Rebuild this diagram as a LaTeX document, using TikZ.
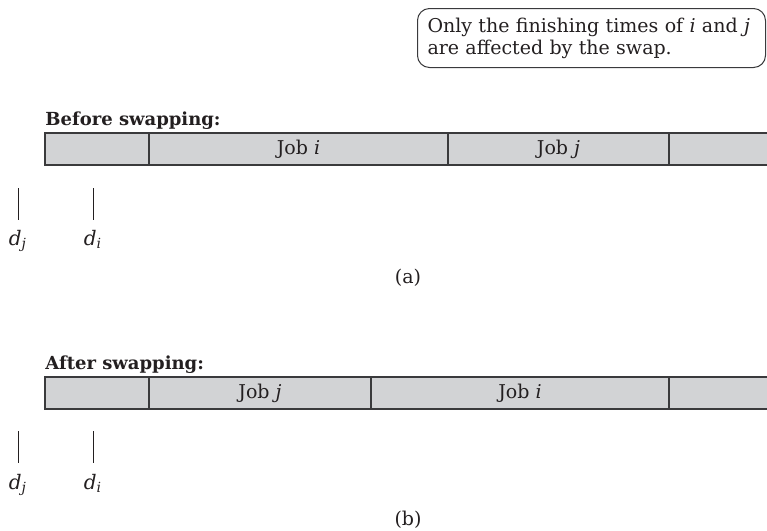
\documentclass[tikz,border=0pt]{standalone}
\usepackage{fontspec}
\setmainfont{DejaVu Serif}
\newcommand{\jobvar}[1]{\textit{#1}}
\definecolor{barfill}{RGB}{210,211,213}
\definecolor{barline}{RGB}{58,58,60}
\definecolor{ink}{RGB}{35,31,32}
\tikzset{
  cell/.style={draw=barline,fill=barfill,line width=0.75pt,minimum height=16pt,
    inner sep=0pt,outer sep=0pt,anchor=west},
  heading/.style={anchor=base west,inner sep=0pt,font=\fontsize{9}{11}\selectfont\bfseries},
  deadline/.style={anchor=base,inner sep=0pt,font=\fontsize{10}{12}\selectfont},
  tickline/.style={line width=0.5pt,draw=ink},
  note/.style={draw=barline,line width=0.5pt,rounded corners=6pt,anchor=north west,
    minimum width=174pt,minimum height=29.5pt,text width=164pt,inner xsep=5pt,
    align=left,font=\fontsize{9.5}{11}\selectfont}
}
\begin{document}
\begin{tikzpicture}[x=0.5pt,y=-0.5pt,every node/.style={text=ink,font=\fontsize{9.5}{11}\selectfont}]
\useasboundingbox (0,0) rectangle (767,531);
\clip (0,0) rectangle (767,531);
\node[note] (swapnote) at (417,8) {Only the finishing times of \jobvar{i} and \jobvar{j}\\are affected by the swap.};

% before the swap
\node[heading] (before) at (45,125) {Before swapping:};
\node[cell,minimum width=52pt] (a0) at (45,149) {};
\node[cell,minimum width=149.5pt] (ai) at (149,149) {Job \jobvar{i}};
\node[cell,minimum width=110.5pt] (aj) at (448,149) {Job \jobvar{j}};
\node[cell,minimum width=60pt] (arest) at (669,149) {};
\coordinate (tja) at (18,188);
\coordinate (tia) at (93,188);
\draw[tickline] (tja) -- ++(0,32);
\draw[tickline] (tia) -- ++(0,32);
\node[deadline] (dja) at (18,245) {\jobvar{d}\textsubscript{\jobvar{j}}};
\node[deadline] (dia) at (93,245) {\jobvar{d}\textsubscript{\jobvar{i}}};
\node (capa) at (408,278) {(a)};

% after the swap
\node[heading] (after) at (45,369) {After swapping:};
\node[cell,minimum width=52pt] (b0) at (45,393) {};
\node[cell,minimum width=111pt] (bj) at (149,393) {Job \jobvar{j}};
\node[cell,minimum width=149pt] (bi) at (371,393) {Job \jobvar{i}};
\node[cell,minimum width=60pt] (brest) at (669,393) {};
\coordinate (tjb) at (18,431);
\coordinate (tib) at (93,431);
\draw[tickline] (tjb) -- ++(0,32);
\draw[tickline] (tib) -- ++(0,32);
\node[deadline] (djb) at (18,489) {\jobvar{d}\textsubscript{\jobvar{j}}};
\node[deadline] (dib) at (93,489) {\jobvar{d}\textsubscript{\jobvar{i}}};
\node (capb) at (408,520) {(b)};
\end{tikzpicture}
\end{document}
